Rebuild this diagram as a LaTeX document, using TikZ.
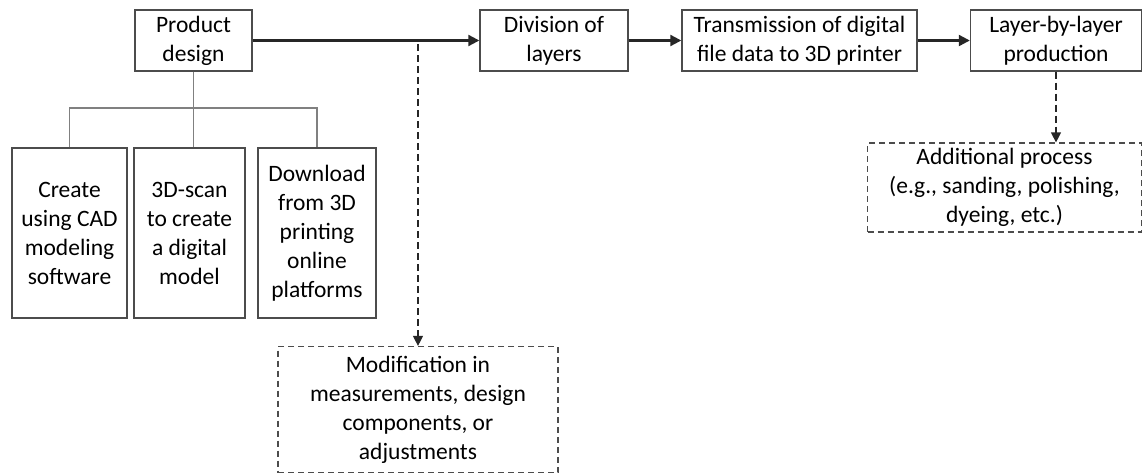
\documentclass[tikz,border=0pt]{standalone}
\usepackage{fontspec}
\setmainfont{Carlito}
\usetikzlibrary{arrows.meta}
\begin{document}
\begin{tikzpicture}[x=1pt,y=-1pt,
  box/.style={draw=black!70, line width=1.4pt, rectangle, inner sep=0pt, align=center,
    font=\fontsize{23.5pt}{29pt}\selectfont},
  dbox/.style={box, line width=1.2pt, dash pattern=on 6pt off 4pt},
  flow/.style={draw=black!85, line width=2.2pt, -{Triangle[length=11pt,width=11pt]}},
  dflow/.style={draw=black!85, line width=1.2pt, dash pattern=on 7pt off 4pt, -{Triangle[length=10pt,width=10pt]}},
  tree/.style={draw=black!50, line width=1.4pt}]
\useasboundingbox (0,0) rectangle (1143,474);
\node[box, minimum width=117pt, minimum height=61pt] (prod) at (193.5,40.5) {Product\\design};
\node[box, minimum width=148pt, minimum height=61pt] (div) at (554,40.5) {Division of\\layers};
\node[box, minimum width=235pt, minimum height=61pt] (trans) at (799.5,40.5) {Transmission of digital\\file data to 3D printer};
\node[box, minimum width=171pt, minimum height=61pt] (layer) at (1056,40.5) {Layer-by-layer\\production};
\node[box, minimum width=115pt, minimum height=170pt] (c1) at (69.5,233) {Create\\using CAD\\modeling\\software};
\node[box, minimum width=111pt, minimum height=170pt] (c2) at (189.5,233) {3D-scan\\to create\\a digital\\model};
\node[box, minimum width=118pt, minimum height=170pt] (c3) at (317,233) {Download\\from 3D\\printing\\online\\platforms};
\node[dbox, minimum width=280pt, minimum height=126pt] (mod) at (418,409.5) {Modification in\\measurements, design\\components, or\\adjustments};
\node[dbox, minimum width=274pt, minimum height=89pt] (add) at (1004.5,187.5) {Additional process\\(e.g., sanding, polishing,\\dyeing, etc.)};
\coordinate (tj) at (193.5,108);
\coordinate (split) at (418,44);
\draw[flow] (prod.east) -- (div.west);
\draw[flow] (div.east) -- (trans.west);
\draw[flow] (trans.east) -- (layer.west);
\draw[dflow] (split) -- (mod.north);
\draw[dflow] (layer.south) -- (layer.south |- add.north);
\draw[tree] (prod.south) -- (tj);
\draw[tree] (c1.north) |- (c3.north |- tj) -- (c3.north);
\draw[tree] (tj) -- (tj |- c2.north);
\end{tikzpicture}
\end{document}
